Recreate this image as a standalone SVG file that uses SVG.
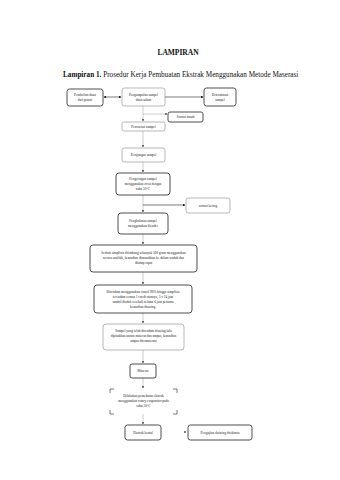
<svg xmlns="http://www.w3.org/2000/svg" width="340" height="480" viewBox="0 0 340 480">
<style>
.t{font-family:"Liberation Serif",serif;fill:#111}
.bx{font-family:"Liberation Serif",serif;font-size:3.4px;fill:#222;text-anchor:middle}
.b{fill:#fff;stroke:#222;stroke-width:0.8}
.bf{fill:#fff;stroke:#888;stroke-width:0.6}
.c{stroke:#222;stroke-width:0.6;fill:none}
.cf{stroke:#999;stroke-width:0.5;fill:none}
</style>
<defs>
<marker id="ah" viewBox="0 0 6 6" refX="5" refY="3" markerWidth="4" markerHeight="4" orient="auto-start-reverse">
<path d="M0,0 L6,3 L0,6 z" fill="#111"/>
</marker>
</defs>
<rect width="340" height="480" fill="#fff"/>
<text class="t" x="178" y="55" font-size="7.5" font-weight="bold" text-anchor="middle">LAMPIRAN</text>
<text class="t" x="63" y="77" font-size="7.2"><tspan font-weight="bold">Lampiran 1.</tspan> Prosedur Kerja Pembuatan Ekstrak Menggunakan Metode Maserasi</text>

<g id="connectors">
<line class="c" x1="104" y1="97" x2="121" y2="97" marker-start="url(#ah)" marker-end="url(#ah)"/>
<line class="c" x1="165" y1="97" x2="203" y2="97" marker-end="url(#ah)"/>
<line class="cf" x1="143" y1="106" x2="143" y2="121" marker-end="url(#ah)"/>
<line class="cf" x1="143" y1="114" x2="167" y2="114" marker-end="url(#ah)"/>
<line class="cf" x1="143" y1="131" x2="143" y2="147" marker-end="url(#ah)"/>
<line class="cf" x1="143" y1="162" x2="143" y2="172" marker-end="url(#ah)"/>
<line class="cf" x1="143" y1="195" x2="143" y2="212" marker-end="url(#ah)"/>
<line class="c" x1="143" y1="205" x2="185" y2="205" marker-end="url(#ah)"/>
<line class="cf" x1="143" y1="234" x2="143" y2="244" marker-end="url(#ah)"/>
<line class="cf" x1="143" y1="272" x2="143" y2="284" marker-end="url(#ah)"/>
<line class="cf" x1="143" y1="313" x2="143" y2="323" marker-end="url(#ah)"/>
<line class="cf" x1="143" y1="350" x2="143" y2="363" marker-end="url(#ah)"/>
<line class="cf" x1="143" y1="378" x2="143" y2="388" marker-end="url(#ah)"/>
<line class="cf" x1="143" y1="414" x2="143" y2="424" marker-end="url(#ah)"/>
<line class="cf" x1="168" y1="432" x2="186" y2="432" stroke-opacity="0" marker-end="url(#ah)"/>
</g>

<g id="n1"><rect class="b" x="67" y="89" width="36" height="17" rx="2.5"/><text class="bx" x="85" y="96">Pembelian daun</text><text class="bx" x="85" y="101">dari petani</text></g>
<g id="n2"><rect class="bf" x="122" y="88" width="43" height="18" rx="2.5"/><text class="bx" x="143.5" y="95.5">Pengumpulan sampel</text><text class="bx" x="143.5" y="100.5">daun salam</text></g>
<g id="n3"><rect class="b" x="204" y="88" width="32" height="18" rx="2.5"/><text class="bx" x="220" y="95.5">Determinasi</text><text class="bx" x="220" y="100.5">sampel</text></g>
<g id="n4"><rect class="b" x="168" y="112" width="35" height="10" rx="2"/><text class="bx" x="185.5" y="118.3">Sortasi basah</text></g>
<g id="n5"><rect class="bf" x="122" y="122" width="43" height="9" rx="2"/><text class="bx" x="143.5" y="127.8">Pencucian sampel</text></g>
<g id="n6"><rect class="bf" x="122" y="148" width="43" height="14" rx="2.5"/><text class="bx" x="143.5" y="156">Perajangan sampel</text></g>
<g id="n7"><rect class="b" x="116" y="173" width="54" height="22" rx="3"/><text class="bx" x="143" y="179.5">Pengeringan sampel</text><text class="bx" x="143" y="184.5">menggunakan oven dengan</text><text class="bx" x="143" y="189.5">suhu 50°C</text></g>
<g id="n8"><rect class="bf" x="186" y="198" width="44" height="15" rx="2.5"/><text class="bx" x="208" y="206.5">sortasi kering</text></g>
<g id="n9"><rect class="b" x="118" y="213" width="50" height="21" rx="3"/><text class="bx" x="143" y="222">Penghalusan sampel</text><text class="bx" x="143" y="227">menggunakan blender</text></g>
<g id="n10"><rect class="b" x="90" y="245" width="107" height="27" rx="3"/><text class="bx" x="143.5" y="253.5">Serbuk simplisia ditimbang sebanyak 500 gram menggunakan</text><text class="bx" x="143.5" y="258.5">neraca analitik, kemudian dimasukkan ke dalam wadah dan</text><text class="bx" x="143.5" y="263.5">ditutup rapat</text></g>
<g id="n11"><rect class="b" x="94" y="285" width="98" height="28" rx="3"/><text class="bx" x="143" y="293">Direndam menggunakan etanol 96% hingga simplisia</text><text class="bx" x="143" y="298">terendam semua 1 cm di atasnya, 3 x 24 jam</text><text class="bx" x="143" y="303">sambil diaduk sesekali selama 6 jam pertama</text><text class="bx" x="143" y="308">kemudian disaring.</text></g>
<g id="n12"><rect class="bf" x="103" y="324" width="81" height="26" rx="3"/><text class="bx" x="143.5" y="332">Sampel yang telah direndam disaring lalu</text><text class="bx" x="143.5" y="337">dipisahkan antara maserat dan ampas, kemudian</text><text class="bx" x="143.5" y="342">ampas diremaserasi</text></g>
<g id="n13"><rect class="b" x="130" y="364" width="26" height="14" rx="2"/><text class="bx" x="143" y="372">Maserat</text></g>
<g id="n14"><path class="c" d="M110,393 v-4 h4 M173,389 h4 v4 M177,410 v4 h-4 M114,414 h-4 v-4"/><text class="bx" x="143.5" y="397">Dilakukan pemekatan ekstrak</text><text class="bx" x="143.5" y="402">menggunakan rotary evaporator pada</text><text class="bx" x="143.5" y="407">suhu 50°C</text></g>
<g id="n15"><rect class="b" x="125" y="425" width="36" height="15" rx="2.5"/><text class="bx" x="143" y="433.5">Ekstrak kental</text></g>
<g id="n16"><rect class="b" x="188" y="425" width="64" height="15" rx="2.5"/><text class="bx" x="220" y="433.5">Pengujian skrining fitokimia</text></g>
</svg>
